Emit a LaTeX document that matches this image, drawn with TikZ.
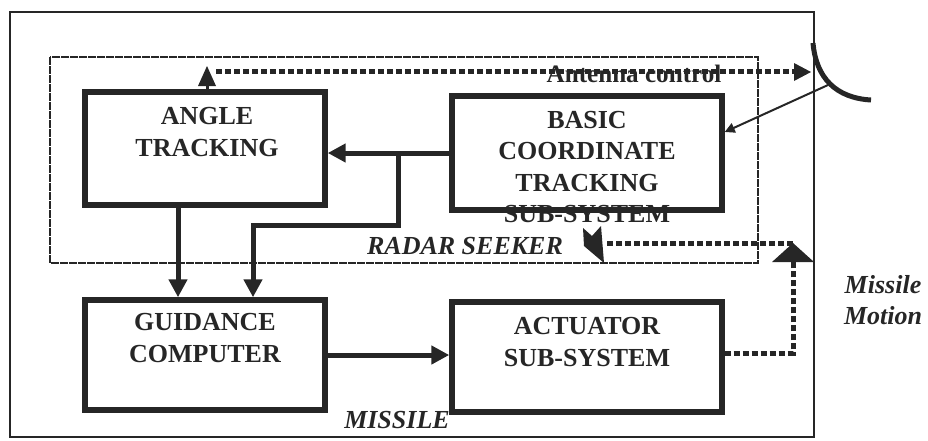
\documentclass[tikz,border=0pt]{standalone}
\usepackage{fontspec}
\setmainfont{Liberation Serif}
\usetikzlibrary{arrows.meta}
\begin{document}
\begin{tikzpicture}[x=0.02cm,y=-0.02cm,
  ink/.style={black!85},
  blk/.style={draw=black!85,line width=0.11cm,rectangle,inner sep=0pt},
  lbl/.style={text=black!85,font=\fontsize{14.8}{17.8}\selectfont\bfseries,align=center,inner sep=0pt},
  ilbl/.style={text=black!85,font=\fontsize{14.8}{17.2}\selectfont\bfseries\itshape,align=center,inner sep=0pt},
  thk/.style={draw=black!85,line width=0.1cm,-{Triangle[length=0.36cm,width=0.36cm]}},
  dotl/.style={draw=black!85,line width=0.1cm,dash pattern=on 0.12cm off 0.06cm},
  tri/.style={fill=black!85}]
\useasboundingbox (0,0) rectangle (928,440);
% outer (missile) and radar seeker frames
\draw[black!85,line width=0.04cm] (10,12) rectangle (814,437);
\draw[black!85,line width=0.035cm,dash pattern=on 0.16cm off 0.02cm] (50,57) rectangle (758,263);
% blocks
\node[blk,minimum width=4.8cm,minimum height=2.26cm] (ang) at (205,148.5) {};
\node[blk,minimum width=5.4cm,minimum height=2.28cm] (bas) at (587,153) {};
\node[blk,minimum width=4.8cm,minimum height=2.2cm] (gui) at (205,355) {};
\node[blk,minimum width=5.4cm,minimum height=2.2cm] (act) at (587,357) {};
% block texts
\node[lbl] (angt) at (207,132) {ANGLE\\TRACKING};
\node[lbl] (bast) at (587,167) {BASIC\\COORDINATE\\TRACKING\\SUB-SYSTEM};
\node[lbl] (guit) at (205,338) {GUIDANCE\\COMPUTER};
\node[lbl] (actt) at (587,342) {ACTUATOR\\SUB-SYSTEM};
% helper coordinates
\coordinate (x178) at (178,0);
\coordinate (x253) at (253,0);
\coordinate (br) at (398,153);
\coordinate (brd) at (398,225);
\coordinate (brl) at (253,225);
\coordinate (mm) at (793,262);
\coordinate (mmtop) at (793,243);
\coordinate (fb) at (607,243);
\coordinate (x207) at (207,0);
\coordinate (acs) at (207,85);
\coordinate (acl) at (216,71);
\coordinate (acr) at (794,71);
\coordinate (ant) at (828,85);
% solid signal flow
\draw[thk] (ang.south -| x178) -- (gui.north -| x178);
\draw[thk] (bas.west |- br) -- (ang.east |- br);
\draw[thk] (br) -- (brd) -- (brl) -- (gui.north -| x253);
\draw[thk] (gui.east) -- (gui.east -| act.west);
% actuator -> missile motion (dotted)
\draw[dotl] (act.east |- 0,353) -- (793,353) -- (mm);
\fill[tri] (mmtop) -- (814,262) -- (772,262) -- cycle;
\draw[dotl] (mmtop) -- (fb);
\fill[tri] (583,228) -- (592,236) -- (601,226) -- (604,263) -- (584,246) -- cycle;
% antenna control (dotted)
\draw[black!85,line width=0.06cm] (ang.north -| x207) -- (acs);
\fill[tri] (207,66) -- (216,86) -- (198,86) -- cycle;
\draw[dotl] (acl) -- (acr);
\fill[tri] (811,72) -- (794,63) -- (794,81) -- cycle;
\node[text=black!85,font=\fontsize{14.3}{16}\selectfont\bfseries,inner sep=0pt] (acn) at (634,74) {Antenna control};
% antenna
\draw[black!85,line width=0.1cm] (813,43) .. controls (816,78) and (836,98) .. (871,100);
\draw[black!85,line width=0.04cm,-{Triangle[length=0.2cm,width=0.2cm]}] (ant) -- (bas.east |- 0,132);
% labels
\node[ilbl] (rs) at (465,246) {RADAR SEEKER};
\node[ilbl] (mi) at (397,420) {MISSILE};
\node[ilbl] (mo) at (883,300) {Missile\\Motion};
\end{tikzpicture}
\end{document}
